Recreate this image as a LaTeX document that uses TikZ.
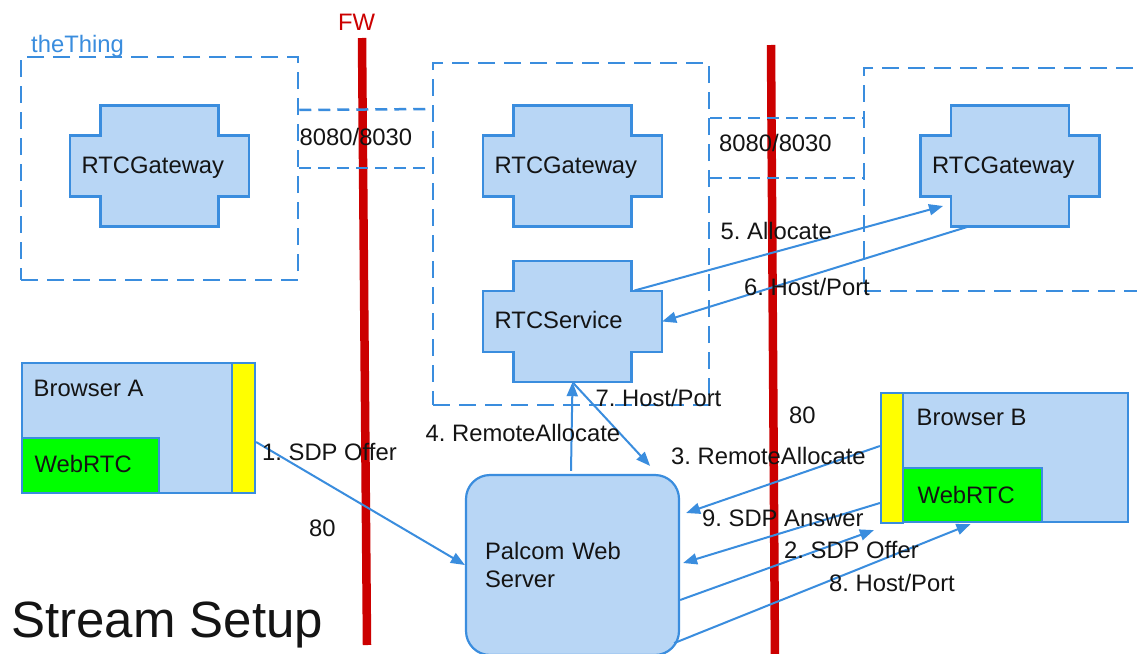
\documentclass[tikz,border=0pt]{standalone}
\usepackage{fontspec}
\setmainfont{Liberation Sans}
\usetikzlibrary{arrows.meta,calc}
\definecolor{lb}{HTML}{3A8DDE}
\definecolor{fb}{HTML}{B8D6F5}
\definecolor{fwred}{HTML}{CC0000}
\definecolor{grn}{HTML}{00FF00}
\definecolor{yel}{HTML}{FFFF00}
\definecolor{txt}{HTML}{141414}
\frenchspacing
\newcommand\xcross[4]{%
  \draw[xshape] (#2,#3) ++(-59,-60.5) -- ++(118,0) -- ++(0,30) -- ++(30.5,0) -- ++(0,61) -- ++(-30.5,0) -- ++(0,30) -- ++(-118,0) -- ++(0,-30) -- ++(-30.5,0) -- ++(0,-61) -- ++(30.5,0) -- cycle;
  \node[xbound] (#1) at (#2,#3) {};
  \node[lbl] at ($(#1.center)+(-78,7)$) {#4};
}
\begin{document}
\begin{tikzpicture}[x=1pt,y=-1pt,
  every node/.style={font=\fontsize{23.8}{28}\selectfont, text=txt},
  lbl/.style={anchor=base west, inner sep=0},
  dbox/.style={draw=lb, line width=2.5pt, dash pattern=on 17pt off 9pt, inner sep=0},
  dlink/.style={draw=lb, line width=2.5pt, dash pattern=on 12pt off 7pt},
  xshape/.style={draw=lb, fill=fb, line width=2.5pt},
  xbound/.style={inner sep=0, minimum width=179pt, minimum height=121pt},
  panel/.style={draw=lb, fill=fb, line width=2.2pt, inner sep=0},
  msg/.style={draw=lb, line width=2pt, -{Triangle[length=14pt,width=11pt]}},
  wall/.style={draw=fwred, line width=8.5pt},
]
\useasboundingbox (0,0) rectangle (1137,653);
\clip (0,0) rectangle (1137,653);
\fill[white] (0,0) rectangle (1137,653);

% firewalls
\draw[wall] (362,38) -- (367,645);
\draw[wall] (771,45) -- (775,660);
\node[lbl, text=fwred] (fw) at (338,30.5) {FW};

% dashed containers
\node[dbox, minimum width=277pt, minimum height=223pt] (thing) at (159.5,168.5) {};
\node[dbox, minimum width=276pt, minimum height=342pt] (mid) at (571,234) {};
\node[dbox, minimum width=296pt, minimum height=223pt] (right) at (1012,179.5) {};
\node[lbl, text=lb] (thinglbl) at (31,52) {theThing};

% dashed port links
\draw[dlink] (thing.east |- 0,110) -- (mid.west |- 0,109);
\draw[dlink] (thing.east |- 0,168) -- (mid.west |- 0,168);
\draw[dlink] (mid.east |- 0,118) -- (right.west |- 0,118);
\draw[dlink] (mid.east |- 0,178) -- (right.west |- 0,178);

% crosses
\xcross{gwA}{159.5}{166}{RTCGateway}
\xcross{gwB}{572.5}{166}{RTCGateway}
\xcross{svc}{572.5}{321.5}{RTCService}
\xcross{gwC}{1010}{166}{RTCGateway}

% Browser A
\node[panel, minimum width=210pt, minimum height=130pt] (bA) at (127,428) {};
\node[panel, fill=grn, minimum width=137pt, minimum height=55pt] (gA) at (90.5,465.5) {};
\node[panel, fill=yel, minimum width=23pt, minimum height=130pt] (ya) at (243.5,428) {};
\node[lbl] at (33.5,396) {Browser A};
\node[lbl] at (34.5,472.5) {WebRTC};

% Browser B
\node[panel, minimum width=225pt, minimum height=129pt] (bB) at (1015.5,457.5) {};
\node[panel, fill=grn, minimum width=139pt, minimum height=54pt] (gB) at (972.5,495) {};
\node[panel, fill=yel, minimum width=22pt, minimum height=130pt] (yb) at (892,458) {};
\node[lbl] at (916.5,425) {Browser B};
\node[lbl] at (917.5,503) {WebRTC};

% Palcom web server
\node[panel, rounded corners=24pt, minimum width=213pt, minimum height=180pt, align=left, text width=175pt] (palcom) at (572.5,565) {Palcom Web\\Server};

% messages
\draw[msg] ($(ya.east)+(0,14)$) -- (palcom.west);
\draw[msg] ($(palcom.north)+(-1.5,-3)$) -- (svc.south);
\draw[msg] (svc.south) -- ($(palcom.north east)+(-30,-8)$);
\draw[msg] ($(svc.center)+(62,-31)$) -- ($(gwC.center)+(-67,40)$);
\draw[msg] ($(gwC.center)+(-43,61)$) -- (svc.east);
\draw[msg] ($(yb.west)+(0,-12)$) -- ($(palcom.east)+(6,-52)$);
\draw[msg] ($(yb.west)+(0,45)$) -- ($(palcom.east)+(3,-2)$);
\draw[msg] ($(palcom.east)+(0,35)$) -- ($(yb.south west)+(-6,6)$);
\draw[msg] ($(palcom.south east)+(-6,-13)$) -- ($(gB.south)+(-2,1)$);

% labels
\node[lbl] at (299.5,145) {8080/8030};
\node[lbl] at (719,151) {8080/8030};
\node[lbl] at (720.5,239) {5. Allocate};
\node[lbl] at (744,295) {6. Host/Port};
\node[lbl] at (262,460) {1. SDP Offer};
\node[lbl] at (309,536.7) {80};
\node[lbl] at (425.5,441.7) {4. RemoteAllocate};
\node[lbl] at (595.5,406) {7. Host/Port};
\node[lbl] at (789,423) {80};
\node[lbl] at (671,464) {3. RemoteAllocate};
\node[lbl] at (702,526) {9. SDP Answer};
\node[lbl] at (784,558) {2. SDP Offer};
\node[lbl] at (829,591.7) {8. Host/Port};
\node[lbl, font=\fontsize{51}{56}\selectfont] at (11,637) {Stream Setup};
\end{tikzpicture}
\end{document}
